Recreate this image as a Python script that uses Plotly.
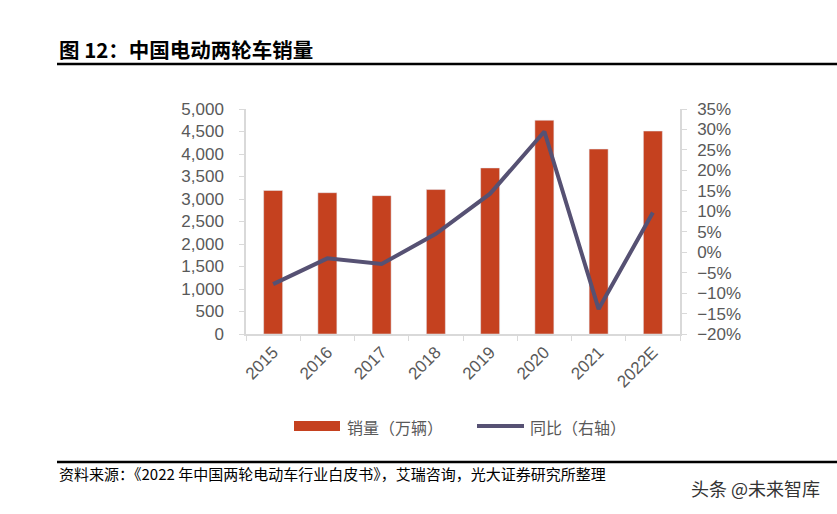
import plotly.graph_objects as go

years = ["2015", "2016", "2017", "2018", "2019", "2020", "2021", "2022E"]
sales = [3190, 3140, 3075, 3210, 3690, 4750, 4110, 4510]
yoy = [-0.078, -0.015, -0.029, 0.045, 0.143, 0.295, -0.139, 0.097]

BAR = "#C5411F"
LINE = "#565173"
GRAY = "#595959"
AXIS = "#D9D9D9"
FONT = "Liberation Sans, Arial, sans-serif"
CJK = "Noto Sans CJK SC, sans-serif"

fig = go.Figure()
fig.add_trace(go.Bar(x=years, y=sales, name="销量（万辆）", marker_color=BAR,
                     width=0.35, yaxis="y", showlegend=False))
fig.add_trace(go.Scatter(x=years, y=yoy, name="同比（右轴）", mode="lines",
                         line=dict(color=LINE, width=4), yaxis="y2", showlegend=False))

W, H = 837, 514
L, R, T, B = 246, 680, 109, 334

def px(x):
    return (x - L) / (R - L)

def py(y):
    return (B - y) / (B - T)

fig.update_layout(
    width=W, height=H,
    margin=dict(l=L, r=W - R, t=T, b=H - B),
    paper_bgcolor="white", plot_bgcolor="white",
    font=dict(family=FONT, color=GRAY, size=17),
    xaxis=dict(type="category", showline=True, linecolor=AXIS, linewidth=1.5,
               ticks="outside", tickcolor=AXIS, ticklen=5, tickson="boundaries",
               tickangle=-45, tickfont=dict(size=17, color=GRAY), showgrid=False),
    yaxis=dict(range=[0, 5000], dtick=500, tickformat=",", showline=True,
               linecolor=AXIS, linewidth=1.5, ticks="outside", tickcolor=AXIS,
               ticklen=5, showgrid=False, zeroline=False, ticklabelstandoff=12,
               tickfont=dict(size=17, color=GRAY)),
    yaxis2=dict(range=[-0.2, 0.35], dtick=0.05, tickformat=".0%", overlaying="y",
                side="right", showline=True, linecolor=AXIS, linewidth=1.5,
                ticks="outside", tickcolor=AXIS, ticklen=5, showgrid=False,
                zeroline=False, ticklabelstandoff=7,
                tickfont=dict(size=17, color=GRAY)),
    bargap=0.65,
)

shapes = [
    dict(type="line", xref="paper", yref="paper", x0=px(57), x1=px(837),
         y0=py(64), y1=py(64), line=dict(color="black", width=2.5)),
    dict(type="line", xref="paper", yref="paper", x0=px(57), x1=px(837),
         y0=py(462), y1=py(462), line=dict(color="black", width=2.5)),
    dict(type="rect", xref="paper", yref="paper", x0=px(294), x1=px(340),
         y0=py(431), y1=py(421), fillcolor=BAR, line=dict(width=0)),
    dict(type="line", xref="paper", yref="paper", x0=px(477), x1=px(524),
         y0=py(426), y1=py(426), line=dict(color=LINE, width=4)),
]

annotations = [
    dict(text="<b>图 12：中国电动两轮车销量</b>", xref="paper", yref="paper",
         x=px(57), y=py(49), xanchor="left", yanchor="middle", showarrow=False,
         font=dict(family=CJK, size=20.5, color="black")),
    dict(text="销量（万辆）", xref="paper", yref="paper", x=px(345), y=py(427),
         xanchor="left", yanchor="middle", showarrow=False,
         font=dict(family=CJK, size=16, color=GRAY)),
    dict(text="同比（右轴）", xref="paper", yref="paper", x=px(528), y=py(427),
         xanchor="left", yanchor="middle", showarrow=False,
         font=dict(family=CJK, size=16, color=GRAY)),
    dict(text="资料来源：《2022 年中国两轮电动车行业白皮书》，艾瑞咨询，光大证券研究所整理",
         xref="paper", yref="paper", x=px(57), y=py(473), xanchor="left",
         yanchor="middle", showarrow=False,
         font=dict(family=CJK, size=15, color="black")),
    dict(text="头条 @未来智库", xref="paper", yref="paper", x=px(822), y=py(488),
         xanchor="right", yanchor="middle", showarrow=False,
         font=dict(family=CJK, size=18, color="#333333")),
]

fig.update_layout(shapes=shapes, annotations=annotations)
fig.write_html("out.html", config={"displayModeBar": False},
               post_script="document.body.style.margin='0';document.body.style.overflow='hidden';")
